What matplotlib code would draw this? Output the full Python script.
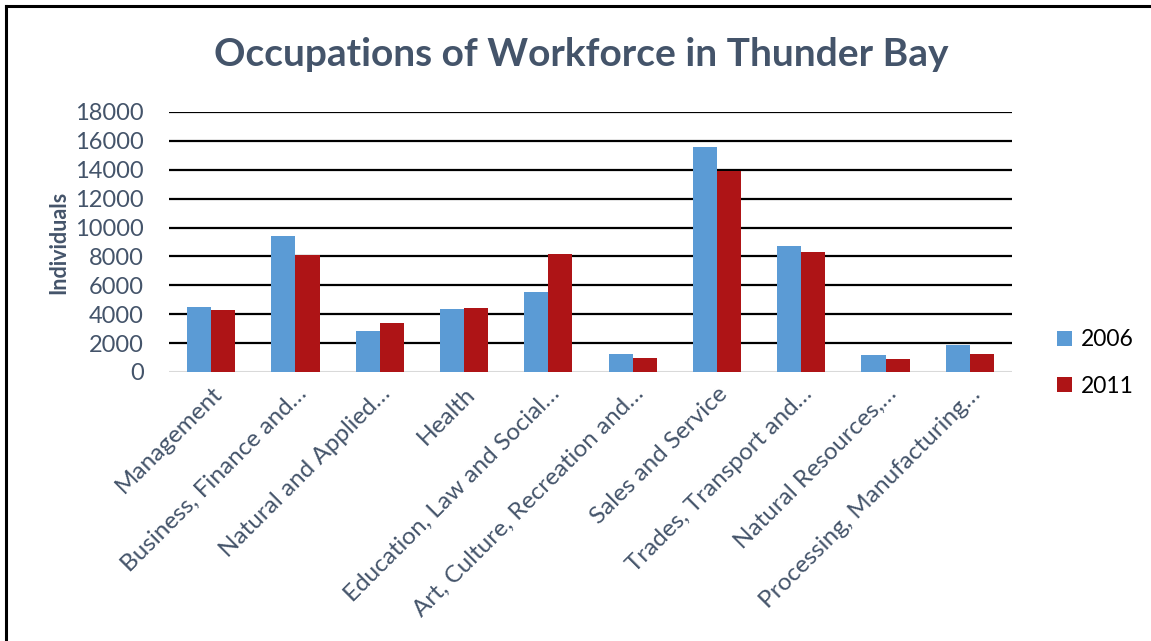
import matplotlib
matplotlib.use("Agg")
import matplotlib.pyplot as plt
import numpy as np
from matplotlib.lines import Line2D

categories = ["Management", "Business, Finance and…", "Natural and Applied…", "Health",
              "Education, Law and Social…", "Art, Culture, Recreation and…",
              "Sales and Service", "Trades, Transport and…", "Natural Resources,…",
              "Processing, Manufacturing…"]
values_2006 = [4500, 9450, 2850, 4350, 5550, 1270, 15600, 8750, 1200, 1870]
values_2011 = [4300, 8100, 3400, 4400, 8200, 1000, 13900, 8300, 920, 1250]
series_names = ["2006", "2011"]
yticks = [0, 2000, 4000, 6000, 8000, 10000, 12000, 14000, 16000, 18000]

plt.rcParams['font.family'] = ['Lato', 'DejaVu Sans']
text_color = "#44546A"
c2006 = "#5B9BD5"
c2011 = "#AE1416"

W, H = 1151, 641
fig = plt.figure(figsize=(W/100, H/100), dpi=100)
ax = fig.add_axes([169/W, 1-372/H, (1012-169)/W, (372-112)/H])

x = np.arange(len(categories))
bw = 1/3.5
ax.bar(x - bw/2, values_2006, bw, color=c2006, label=series_names[0], zorder=3)
ax.bar(x + bw/2, values_2011, bw, color=c2011, label=series_names[1], zorder=3)

ax.set_xlim(-0.5, len(categories)-0.5)
ax.set_ylim(0, 18000)
ax.set_yticks(yticks)
ax.set_yticklabels([str(t) for t in yticks], fontsize=17, color=text_color)
for t in yticks:
    if t == 0:
        ax.axhline(t, color="#D9D9D9", lw=1.5, zorder=1)
    else:
        ax.axhline(t, color="black", lw=1.6, zorder=1)
for s in ax.spines.values():
    s.set_visible(False)
ax.tick_params(axis='y', length=0, pad=18)
ax.tick_params(axis='x', length=0, pad=8)
ax.set_xticks(x)
ax.set_xticklabels(categories, rotation=45, ha='right', rotation_mode='anchor',
                   fontsize=17.5, color=text_color)

ax.set_ylabel("Individuals", fontsize=15.5, fontweight='bold', color=text_color, labelpad=4)

fig.text(581/W, 1-55/H, "Occupations of Workforce in Thunder Bay", ha='center', va='center',
         fontsize=28, fontweight='bold', color=text_color)

leg = ax.legend(loc='center left', bbox_to_anchor=(1036/W, 1-363/H), bbox_transform=fig.transFigure,
                frameon=False, fontsize=16.5, handlelength=0.65, handleheight=0.65,
                labelspacing=1.1, handletextpad=0.4)

fig.add_artist(Line2D([6/W, 6/W], [0, 1-6/H], transform=fig.transFigure, color='black', lw=2.2))
fig.add_artist(Line2D([6/W, 1], [1-6/H, 1-6/H], transform=fig.transFigure, color='black', lw=2.2))

fig.savefig("out.png", dpi=100)
